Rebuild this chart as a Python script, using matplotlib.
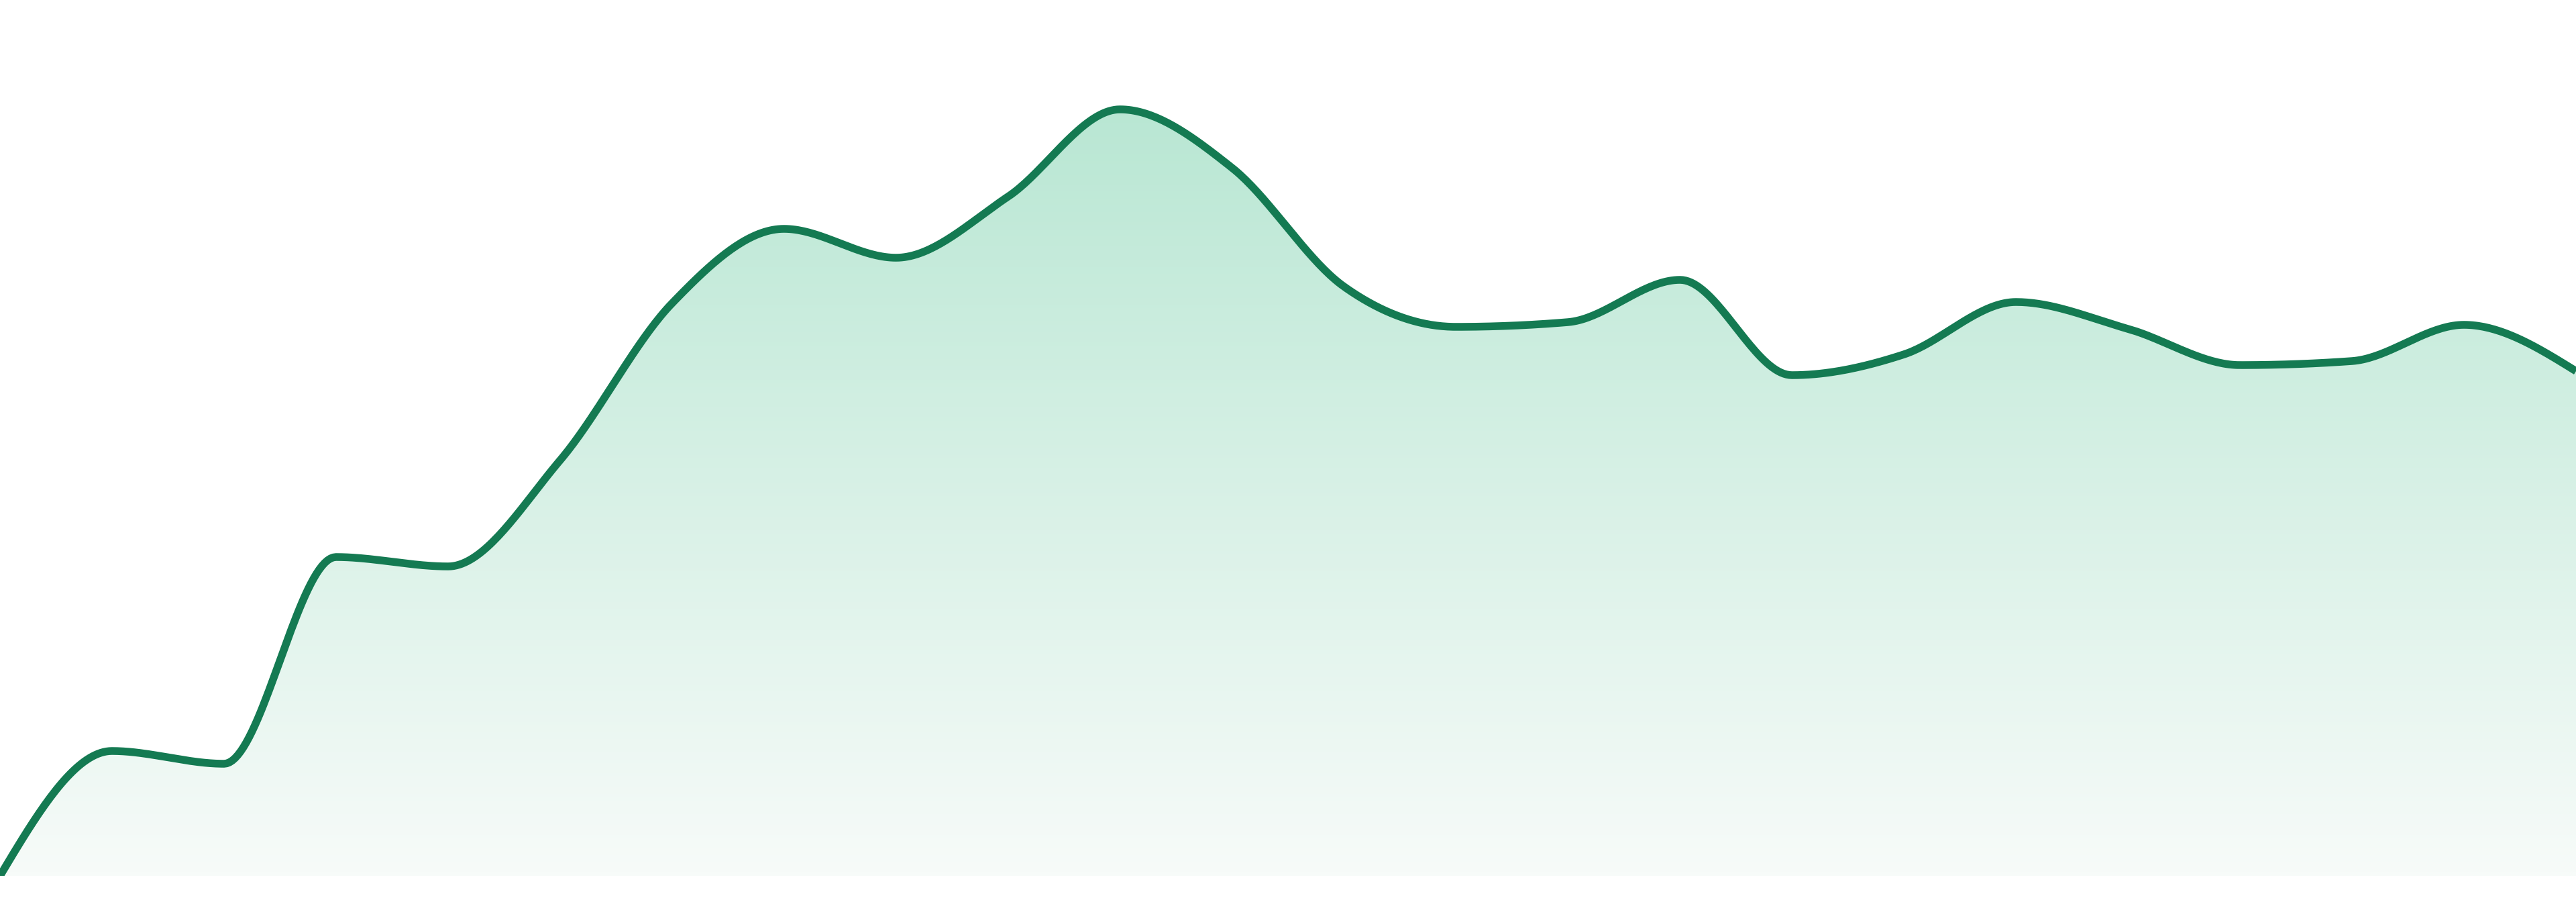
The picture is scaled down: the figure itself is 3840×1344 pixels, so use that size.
import numpy as np
import matplotlib
matplotlib.use("Agg")
from matplotlib import pyplot as plt
from matplotlib.colors import LinearSegmentedColormap

# one value per step, 24 steps
steps = list(range(24))
values = [0.0, 18.6, 16.7, 47.5, 46.1, 61.9, 85.3, 96.4, 92.1, 101.2, 114.2, 105.5,
          87.8, 81.8, 82.5, 88.8, 74.6, 77.7, 85.5, 81.5, 76.1, 76.7, 82.1, 75.2]

LINE = '#147a52'
TOP = (176 / 255, 228 / 255, 206 / 255)
BOTTOM = (247 / 255, 251 / 255, 249 / 255)


def monotone(x, y, n=40):
    # monotone cubic (same idea as d3 curveMonotoneX)
    x = np.asarray(x, float)
    y = np.asarray(y, float)
    h = np.diff(x)
    s = np.diff(y) / h
    t = np.zeros_like(y)
    for i in range(1, len(y) - 1):
        p = (s[i - 1] * h[i] + s[i] * h[i - 1]) / (h[i - 1] + h[i])
        t[i] = (np.sign(s[i - 1]) + np.sign(s[i])) * min(abs(s[i - 1]), abs(s[i]), 0.5 * abs(p))
    t[0] = (3 * s[0] - t[1]) / 2
    t[-1] = (3 * s[-1] - t[-2]) / 2
    xs, ys = [], []
    for i in range(len(h)):
        u = np.linspace(0, 1, n, endpoint=False)
        h00 = 2 * u**3 - 3 * u**2 + 1
        h10 = u**3 - 2 * u**2 + u
        h01 = -2 * u**3 + 3 * u**2
        h11 = u**3 - u**2
        xs.append(x[i] + u * h[i])
        ys.append(h00 * y[i] + h10 * h[i] * t[i] + h01 * y[i + 1] + h11 * h[i] * t[i + 1])
    xs.append([x[-1]])
    ys.append([y[-1]])
    return np.concatenate(xs), np.concatenate(ys)


xs, ys = monotone(steps, values)

fig = plt.figure(figsize=(38.4, 13.44), dpi=100)
ax = fig.add_axes([0, 39 / 1344, 1, 1305 / 1344])
ymax = 130.5
ax.set_xlim(0, 23)
ax.set_ylim(0, ymax)
ax.axis('off')

cmap = LinearSegmentedColormap.from_list('fade', [BOTTOM, TOP])
grad = np.linspace(0, 1, 256).reshape(-1, 1)
img = ax.imshow(grad, cmap=cmap, aspect='auto', origin='lower',
                extent=[0, 23, 0, ymax], zorder=1)
poly = ax.fill_between(xs, ys, 0, color='none', lw=0)
img.set_clip_path(poly.get_paths()[0], transform=ax.transData)

ax.plot(xs, ys, color=LINE, lw=8.3, solid_capstyle='butt', zorder=3)

fig.savefig('out.png', dpi=100, facecolor='white')
